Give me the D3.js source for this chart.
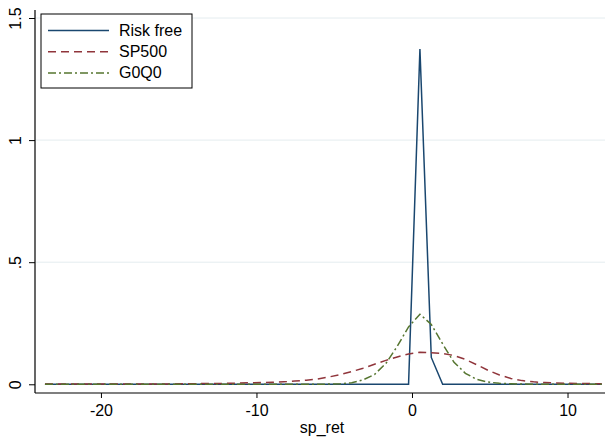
<!DOCTYPE html>
<html><head><meta charset="utf-8">
<script src="https://cdn.jsdelivr.net/npm/d3@7"></script>
<style>body{margin:0;background:#fff}svg{display:block}text{font-family:"Liberation Sans",Arial,sans-serif}</style>
</head><body><svg id="c" width="605" height="438"></svg>
<script>
// grid of evaluation points (sp_ret)
const gridStart = -23.6, gridEnd = 12.2, gridN = 50;
const xs = d3.range(gridN).map(k => gridStart + (gridEnd - gridStart) * k / (gridN - 1));
const riskFree = [0,0,0,0,0,0,0,0,0,0, 0,0,0,0,0,0,0,0,0,0, 0,0,0,0,0,0,0,0,0,0, 0,0,0,1.373,0.11,0,0,0,0,0, 0,0,0,0,0,0,0,0,0,0];
const sp500 = [0.001,0.001,0.001,0.001,0.001,0.001,0.001,0.001,0.001,0.001, 0.001,0.001,0.002,0.002,0.003,0.003,0.004,0.005,0.006,0.007, 0.008,0.010,0.013,0.017,0.022,0.030,0.040,0.052,0.066,0.082, 0.098,0.112,0.124,0.131,0.129,0.126,0.118,0.102,0.080,0.057, 0.038,0.024,0.015,0.010,0.007,0.005,0.004,0.003,0.003,0.002];
const g0q0 = [0,0,0,0,0,0,0,0,0,0, 0,0,0,0,0,0,0,0,0,0, 0,0,0,0,0,0.001,0.002,0.006,0.018,0.040, 0.085,0.155,0.235,0.287,0.245,0.165,0.090,0.045,0.020,0.009, 0.004,0.002,0.001,0,0,0,0,0,0,0];
const seriesNames = ["Risk free", "SP500", "G0Q0"];
const yTicks = [0, 0.5, 1, 1.5];
const yTickLabels = ["0", ".5", "1", "1.5"];
const xTicks = [-20, -10, 0, 10];
const xTitle = "sp_ret";

const colors = ["#1a476f", "#90353b", "#55752f"];
const dashes = [null, "8,5", "8,3,2,3"];
const svg = d3.select("#c");
const x = d3.scaleLinear().domain([-24.24, 12.41]).range([35, 605]);
const y = d3.scaleLinear().domain([-0.0357, 1.5328]).range([393, 10]);

// gridlines
svg.append("g").selectAll("line").data(yTicks.filter(t => t > 0)).join("line")
  .attr("x1", 36).attr("x2", 605).attr("y1", d => y(d)).attr("y2", d => y(d))
  .attr("stroke", "#e4ecef").attr("stroke-width", 1);

// axes
const yAxis = d3.axisLeft(y).tickValues(yTicks).tickFormat((d, i) => yTickLabels[i]).tickSize(6);
const gy = svg.append("g").attr("transform", "translate(35,0)").call(yAxis);
gy.select(".domain").attr("d", `M0,${y.range()[1]}V${y.range()[0]}`).attr("stroke", "#000").attr("stroke-width", 1.2);
gy.selectAll(".tick line").attr("stroke", "#000");
gy.selectAll(".tick text").attr("font-size", 16).attr("fill", "#000")
  .attr("text-anchor", "middle").attr("x", 0).attr("y", 0).attr("dy", null)
  .attr("transform", "translate(-14,0) rotate(-90)");

const xAxis = d3.axisBottom(x).tickValues(xTicks).tickFormat(d3.format("d")).tickSize(5).tickPadding(6.5);
const gx = svg.append("g").attr("transform", "translate(0,393)").call(xAxis);
gx.select(".domain").attr("d", `M35,0H605`).attr("stroke", "#000").attr("stroke-width", 1.2);
gx.selectAll(".tick line").attr("stroke", "#000");
gx.selectAll(".tick text").attr("font-size", 16).attr("fill", "#000").text(d => d < 0 ? "-" + Math.abs(d) : d);

svg.append("text").attr("x", 322).attr("y", 432.5).attr("text-anchor", "middle")
  .attr("font-size", 16).text(xTitle);

// lines
const line = d3.line().x((d, i) => x(xs[i])).y(d => y(d));
[riskFree, sp500, g0q0].forEach((s, i) => {
  svg.append("path").datum(s).attr("d", line).attr("fill", "none")
    .attr("stroke", colors[i]).attr("stroke-width", 1.5).attr("stroke-dasharray", dashes[i]);
});

// legend
const lg = svg.append("g");
lg.append("rect").attr("x", 41).attr("y", 14).attr("width", 151).attr("height", 74)
  .attr("fill", "#fff").attr("stroke", "#000").attr("stroke-width", 1);
seriesNames.forEach((n, i) => {
  const yy = 30.5 + i * 21.3;
  lg.append("line").attr("x1", 48).attr("x2", 109).attr("y1", yy).attr("y2", yy)
    .attr("stroke", colors[i]).attr("stroke-width", 1.5).attr("stroke-dasharray", dashes[i]);
  lg.append("text").attr("x", 119).attr("y", yy + 5.3).attr("font-size", 16).text(n);
});
</script></body></html>
